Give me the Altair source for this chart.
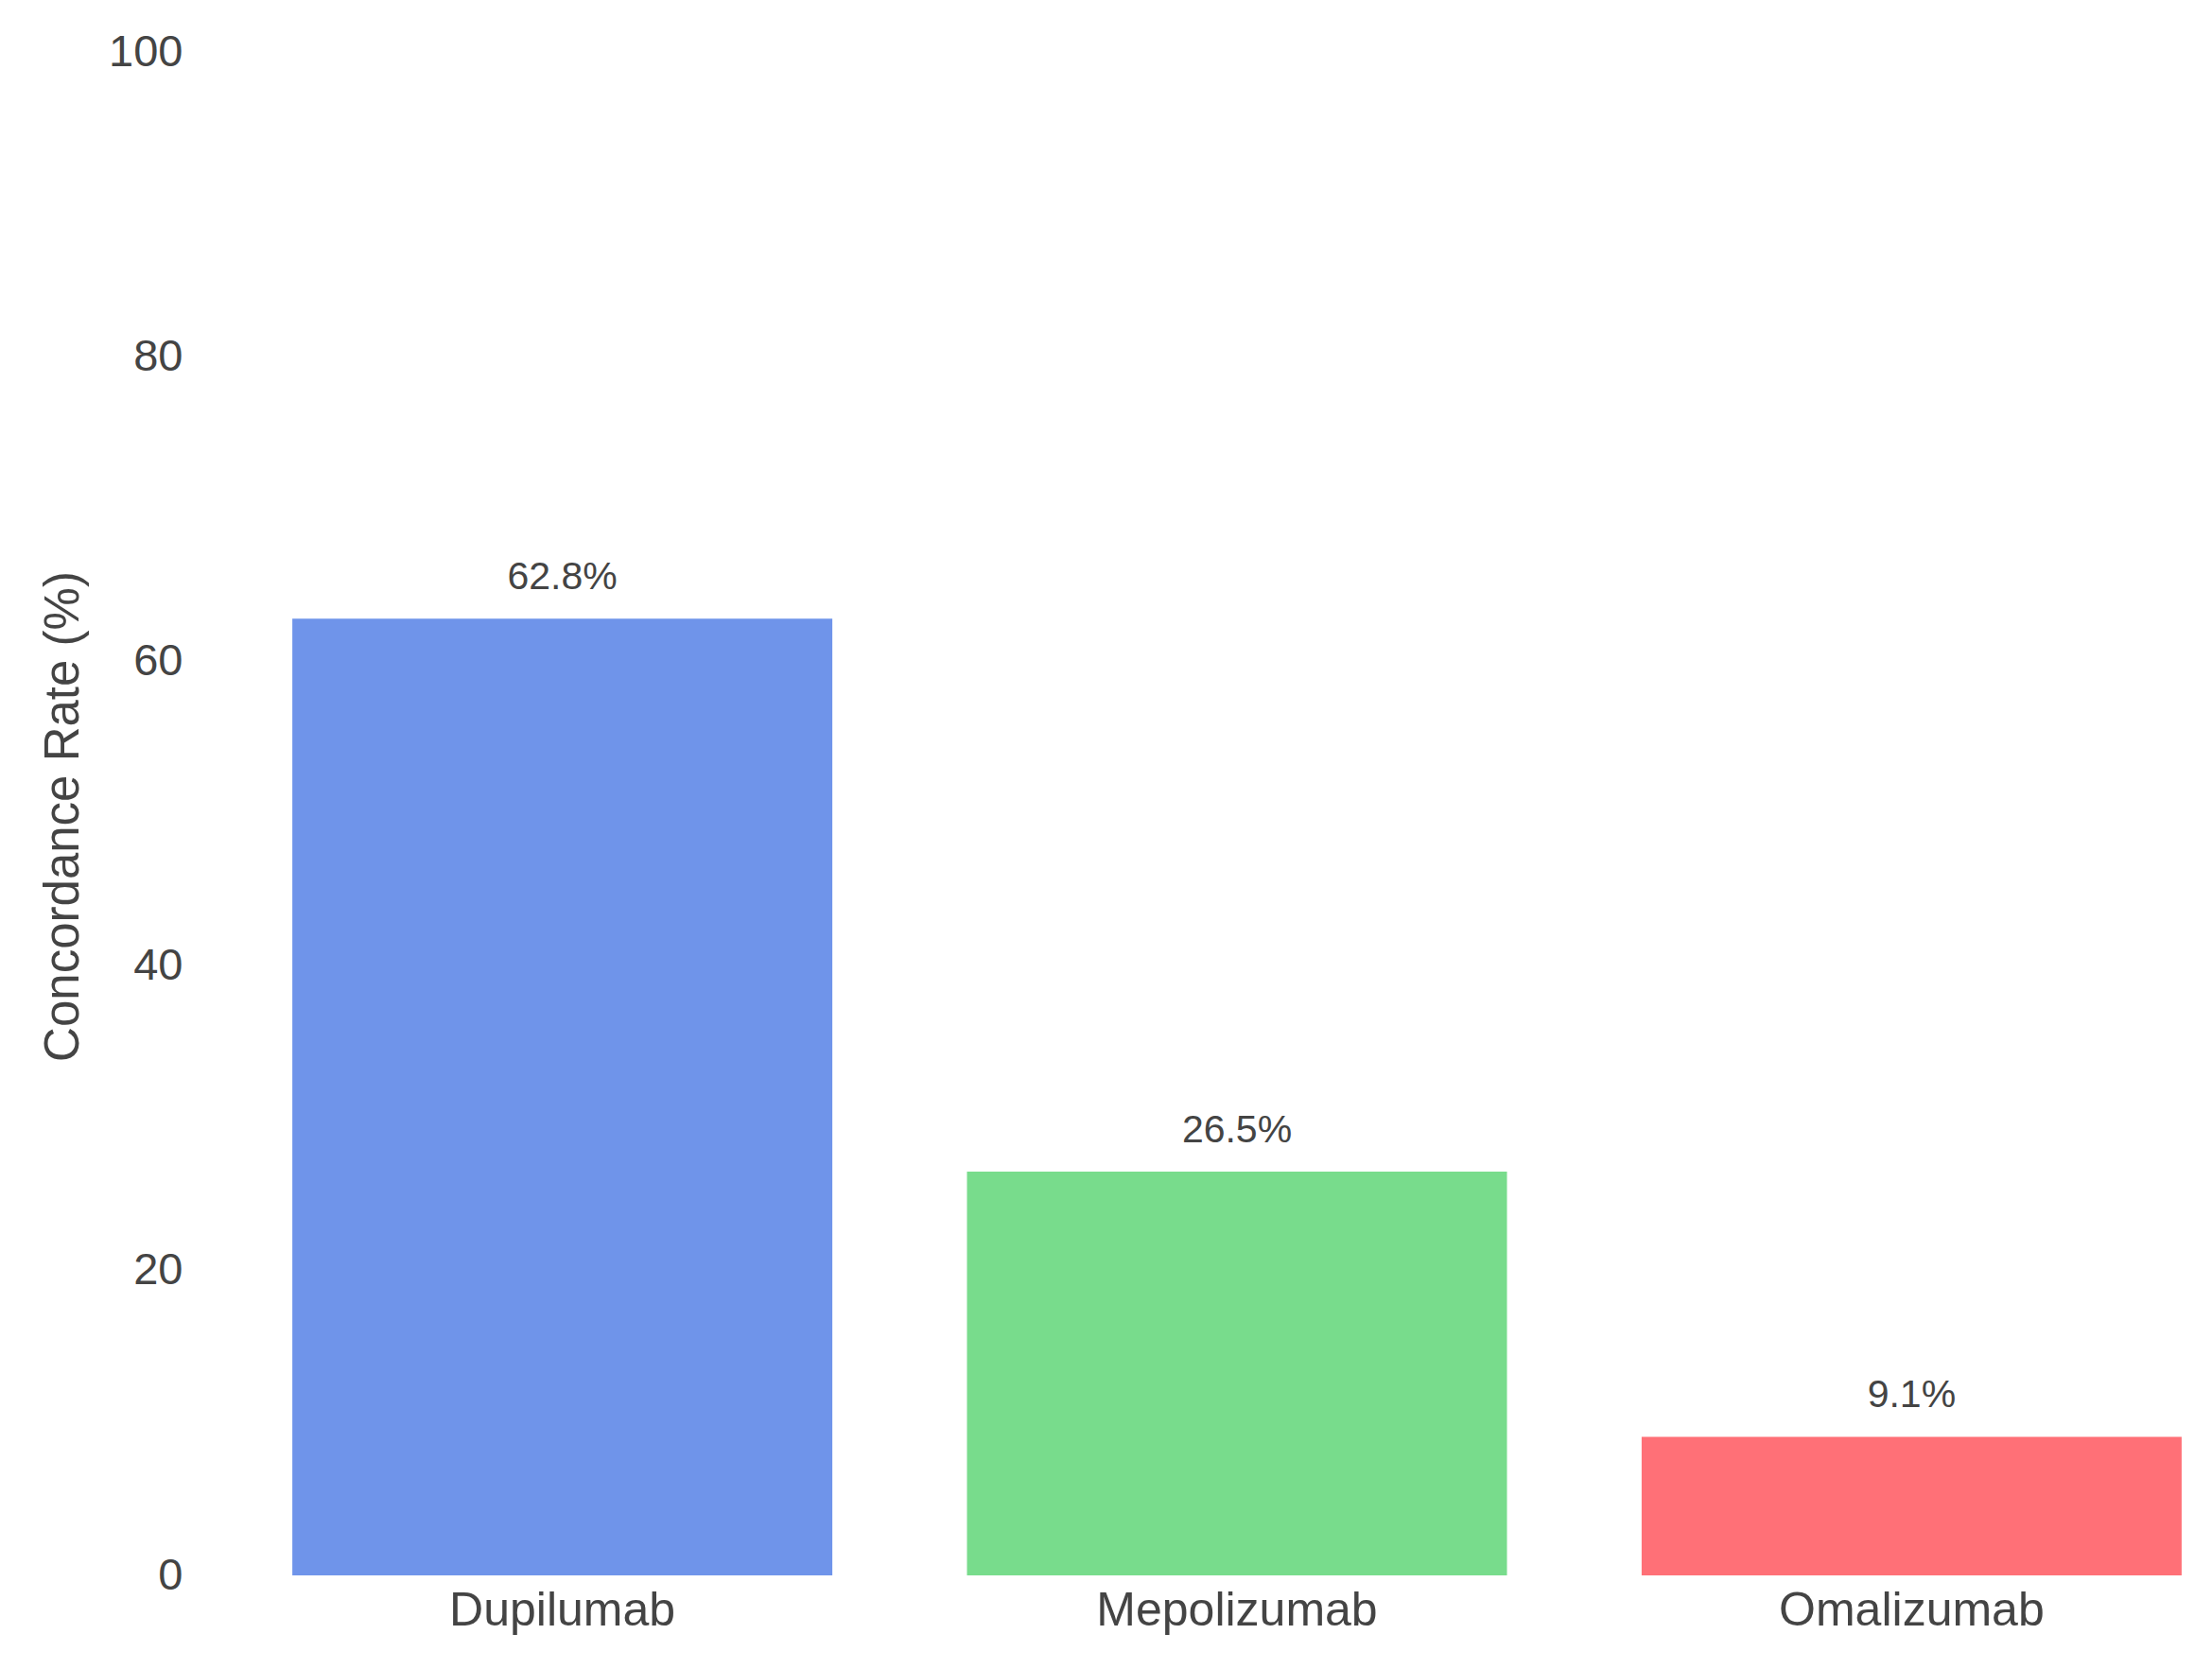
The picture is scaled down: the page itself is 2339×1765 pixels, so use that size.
import altair as alt
import pandas as pd

drugs = ["Dupilumab", "Mepolizumab", "Omalizumab"]
rates = [62.8, 26.5, 9.1]
labels = ["62.8%", "26.5%", "9.1%"]
colors = ["#6f94ea", "#78dc8c", "#ff7077"]

df = pd.DataFrame({"drug": drugs, "rate": rates, "label": labels})

FONT = "Liberation Sans"
TXT = "#444444"

x = alt.X(
    "drug:N",
    sort=drugs,
    title=None,
    scale=alt.Scale(paddingInner=0.2, paddingOuter=0.02),
    axis=alt.Axis(
        labelAngle=0,
        labelFontSize=50,
        labelFont=FONT,
        labelColor=TXT,
        labelPadding=12,
        labelLimit=1000,
        ticks=False,
        tickSize=0,
        domain=False,
        grid=False,
    ),
)
y = alt.Y(
    "rate:Q",
    scale=alt.Scale(domain=[0, 100], nice=False),
    axis=alt.Axis(
        values=[0, 20, 40, 60, 80, 100],
        title="Concordance Rate (%)",
        titleFontSize=51,
        titleFont=FONT,
        titleColor=TXT,
        titleFontWeight="normal",
        titleAngle=-90,
        titleAlign="center",
        titleBaseline="alphabetic",
        titleX=-213,
        titleY=808,
        labelFontSize=47,
        labelFont=FONT,
        labelColor=TXT,
        labelPadding=102,
        ticks=False,
        tickSize=0,
        domain=False,
        grid=False,
    ),
)

bars = alt.Chart(df).mark_bar(size=571).encode(
    x=x,
    y=y,
    color=alt.Color("drug:N", scale=alt.Scale(domain=drugs, range=colors), legend=None),
)

text = alt.Chart(df).mark_text(
    baseline="alphabetic", dy=-31, fontSize=41, font=FONT, color=TXT
).encode(x=alt.X("drug:N", sort=drugs), y="rate:Q", text="label:N")

chart = (
    alt.layer(bars, text)
    .properties(
        width=2026,
        height=1611,
        autosize=alt.AutoSizeParams(type="none"),
        padding={"left": 287, "top": 47, "right": 10, "bottom": 90},
        background="white",
    )
    .configure_view(stroke=None)
)

chart.save("out.html", embed_options={"renderer": "svg", "actions": False})
